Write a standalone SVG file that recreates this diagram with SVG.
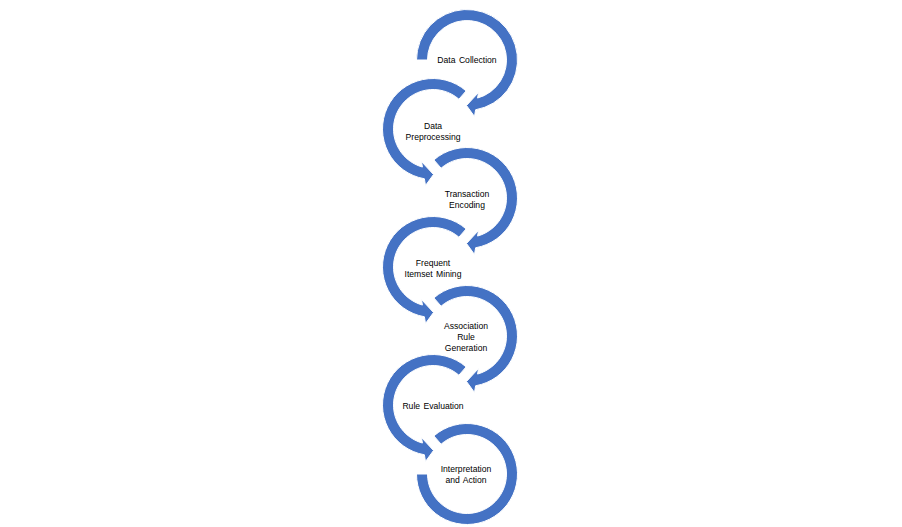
<svg xmlns="http://www.w3.org/2000/svg" width="902" height="527" viewBox="0 0 902 527">
<style>
.arc{fill:#4472C4;stroke:#FFFFFF;stroke-width:1;stroke-linejoin:miter}
.lbl{font-family:"Liberation Sans",Arial,sans-serif;font-size:8.6px;fill:#000000;text-anchor:middle;word-spacing:1px}
</style>
<rect width="902" height="527" fill="#FFFFFF"/>
<g id="node1">
<path class="arc" d="M416.5,60 A50.5,50.5 0 1 1 475.62,109.76 L474.5,116.5 L466.5,105.5 L478.5,92.5 L477.57,98.06 A39.5,39.5 0 1 0 427.5,60 Z"/>
<text class="lbl" x="467" y="63">Data Collection</text>
</g>
<g id="node2">
<path class="arc" d="M466.13,90.89 A50.5,50.5 0 1 0 424.38,178.76 L425.5,185.5 L433.5,174.5 L421.5,161.5 L422.43,167.06 A39.5,39.5 0 1 1 458.92,99.19 Z"/>
<text class="lbl" x="433" y="128.5">Data</text>
<text class="lbl" x="433" y="139.5">Preprocessing</text>
</g>
<g id="node3">
<path class="arc" d="M433.87,159.89 A50.5,50.5 0 1 1 475.62,247.76 L474.5,254.5 L466.5,243.5 L478.5,230.5 L477.57,236.06 A39.5,39.5 0 1 0 441.08,168.19 Z"/>
<text class="lbl" x="467" y="196.5">Transaction</text>
<text class="lbl" x="467" y="207.5">Encoding</text>
</g>
<g id="node4">
<path class="arc" d="M466.13,228.89 A50.5,50.5 0 1 0 424.38,316.76 L425.5,323.5 L433.5,312.5 L421.5,299.5 L422.43,305.06 A39.5,39.5 0 1 1 458.92,237.19 Z"/>
<text class="lbl" x="433" y="265.5">Frequent</text>
<text class="lbl" x="433" y="276.5">Itemset Mining</text>
</g>
<g id="node5">
<path class="arc" d="M433.87,297.89 A50.5,50.5 0 1 1 475.62,385.76 L474.5,392.5 L466.5,381.5 L478.5,368.5 L477.57,374.06 A39.5,39.5 0 1 0 441.08,306.19 Z"/>
<text class="lbl" x="466" y="329">Association</text>
<text class="lbl" x="466" y="340">Rule</text>
<text class="lbl" x="466" y="351">Generation</text>
</g>
<g id="node6">
<path class="arc" d="M466.13,366.89 A50.5,50.5 0 1 0 424.38,454.76 L425.5,461.5 L433.5,450.5 L421.5,437.5 L422.43,443.06 A39.5,39.5 0 1 1 458.92,375.19 Z"/>
<text class="lbl" x="433" y="408.5">Rule Evaluation</text>
</g>
<g id="node7">
<path class="arc" d="M433.87,435.89 A50.5,50.5 0 1 1 416.5,474 L427.5,474 A39.5,39.5 0 1 0 441.08,444.19 Z"/>
<text class="lbl" x="466" y="471.5">Interpretation</text>
<text class="lbl" x="466" y="482.5">and Action</text>
</g>
</svg>
